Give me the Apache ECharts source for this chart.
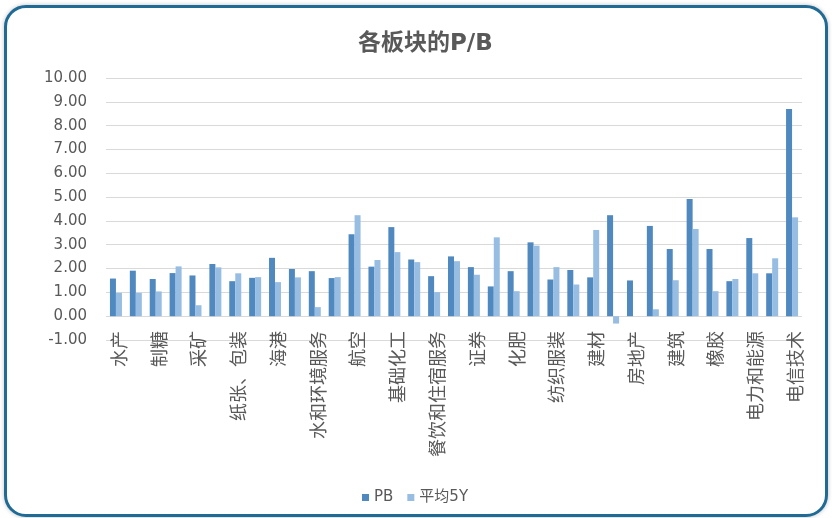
<!DOCTYPE html>
<html>
<head>
<meta charset="utf-8">
<script src="https://cdn.jsdelivr.net/npm/echarts@6/dist/echarts.min.js"></script>
<style>
  html, body { margin: 0; padding: 0; background: #fff; }
  .frame {
    position: absolute; left: 4px; top: 5px; width: 818px; height: 506px;
    border: 3px solid #1f6b96; border-radius: 22px;
    box-shadow: 0 0 4px rgba(0,0,0,0.25);
    background: #fff;
  }
  #chart { position: absolute; left: 0; top: 0; width: 832px; height: 518px; }
</style>
</head>
<body>
<div class="frame"></div>
<div id="chart"></div>
<script>
// 板块名称（隔一个显示一个）
const categories = [
  '水产', '农业', '制糖', '食品', '采矿', '煤炭', '纸张、包装', '钢铁', '海港', '航运',
  '水和环境服务', '公路', '航空', '铁路', '基础化工', '有色金属', '餐饮和住宿服务', '零售', '证券', '银行',
  '化肥', '医药', '纺织服装', '家电', '建材', '保险', '房地产', '汽车', '建筑', '机械',
  '橡胶', '石油', '电力和能源', '软件', '电信技术'
];
const pbValues = [
  1.58, 1.91, 1.56, 1.81, 1.71, 2.19, 1.47, 1.61, 2.45, 1.98,
  1.89, 1.60, 3.44, 2.08, 3.74, 2.38, 1.68, 2.51, 2.06, 1.25,
  1.89, 3.10, 1.54, 1.94, 1.63, 4.24, 1.50, 3.79, 2.82, 4.92,
  2.82, 1.47, 3.28, 1.80, 8.70
];
const avg5yValues = [
  0.98, 0.98, 1.04, 2.09, 0.46, 2.05, 1.80, 1.64, 1.43, 1.63,
  0.38, 1.64, 4.24, 2.36, 2.69, 2.27, 1.01, 2.31, 1.74, 3.31,
  1.05, 2.96, 2.06, 1.33, 3.62, -0.31, null, 0.29, 1.51, 3.66,
  1.05, 1.56, 1.80, 2.43, 4.15
];

const chart = echarts.init(document.getElementById('chart'));
const textColor = '#595959';
const fontFamily = '"DejaVu Sans", "Noto Sans CJK SC", sans-serif';

const option = {
  textStyle: { fontFamily: fontFamily },
  title: {
    text: '各板块的P/B',
    left: 353,
    top: 28,
    textStyle: { fontSize: 23, fontWeight: 'bold', color: textColor, fontFamily: fontFamily }
  },
  legend: {
    left: 357,
    top: 485,
    itemWidth: 7,
    itemHeight: 7,
    itemGap: 14,
    icon: 'rect',
    textStyle: { fontSize: 15, color: textColor, fontFamily: fontFamily },
    data: ['PB', '平均5Y']
  },
  grid: { left: 106, right: 30, top: 78, bottom: 178 },
  xAxis: {
    type: 'category',
    data: categories,
    position: 'bottom',
    axisLine: { show: false },
    axisTick: { show: false },
    axisLabel: {
      interval: 1,
      rotate: 90,
      margin: -9,
      fontSize: 18,
      lineHeight: 6,
      verticalAlign: 'top',
      color: textColor,
      fontFamily: '"Noto Sans CJK SC", sans-serif'
    }
  },
  yAxis: {
    type: 'value',
    min: -1,
    max: 10,
    interval: 1,
    axisLine: { show: false },
    axisTick: { show: false },
    axisLabel: {
      margin: 19,
      fontSize: 15,
      color: textColor,
      fontFamily: fontFamily,
      formatter: (v) => v.toFixed(2)
    },
    splitLine: { lineStyle: { color: '#d9d9d9', width: 1 } }
  },
  series: [
    {
      name: 'PB',
      type: 'bar',
      data: pbValues,
      barWidth: 6,
      barGap: '0%',
      itemStyle: { color: '#4f89c0' }
    },
    {
      name: '平均5Y',
      type: 'bar',
      data: avg5yValues,
      barWidth: 6,
      itemStyle: { color: '#98bde3' }
    }
  ]
};
chart.setOption(option);
</script>
</body>
</html>
